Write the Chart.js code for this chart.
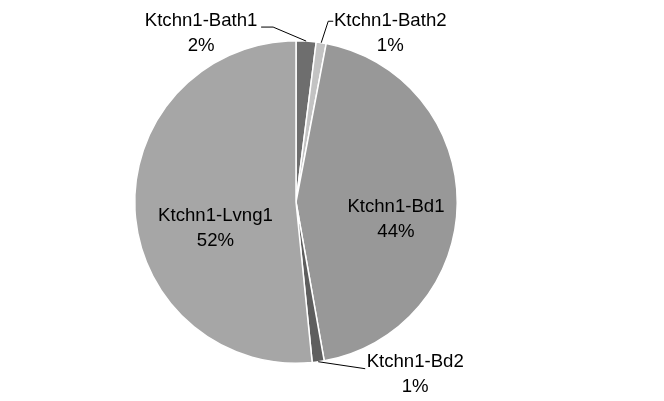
<!DOCTYPE html>
<html>
<head>
<meta charset="utf-8">
<script src="https://cdn.jsdelivr.net/npm/chart.js@4/dist/chart.umd.min.js"></script>
<style>
  html, body { margin: 0; padding: 0; background: #fff; }
  #wrap { width: 664px; height: 401px; position: relative; }
</style>
</head>
<body>
<div id="wrap"><canvas id="pieChart"></canvas></div>
<script>
const categories = ['Ktchn1-Bath1', 'Ktchn1-Bath2', 'Ktchn1-Bd1', 'Ktchn1-Bd2', 'Ktchn1-Lvng1'];
const shares = [2.0, 1.0, 44.2, 1.2, 51.6];
const sliceColors = ['#6e6e6e', '#c3c3c3', '#989898', '#5e5e5e', '#a6a6a6'];

// where each label sits: r = fraction of radius along the slice middle, dx/dy = nudge,
// leader = elbow points relative to the label centre (outside labels only)
const labelLayout = [
    { r: 1, dx: -105, dy: -7.5, leader: [[72, -6.5], [60, -6.5]] },
    { r: 1, dx: 69, dy: -9, leader: [[-62, -12.5], [-57, -12.5]] },
    { r: 0.62, dx: 0, dy: 16.5 },
    { r: 1, dx: 97, dy: 13, leader: [[-50, -6]] },
    { r: 0.5, dx: 0, dy: 22.5 }
];

const total = shares.reduce((a, b) => a + b, 0);

const pieLabels = {
    id: 'pieLabels',
    afterDatasetsDraw(chart) {
        const ctx = chart.ctx;
        const meta = chart.getDatasetMeta(0);
        ctx.save();
        ctx.font = '18.6px "Liberation Sans", Arial, sans-serif';
        ctx.fillStyle = '#000';
        ctx.textAlign = 'center';
        ctx.textBaseline = 'middle';
        meta.data.forEach((arc, i) => {
            const p = arc.getProps(['x', 'y', 'startAngle', 'endAngle', 'outerRadius'], true);
            const mid = (p.startAngle + p.endAngle) / 2;
            const cfg = labelLayout[i];
            const ax = p.x + Math.cos(mid) * p.outerRadius * cfg.r;
            const ay = p.y + Math.sin(mid) * p.outerRadius * cfg.r;
            const cx = ax + cfg.dx;
            const cy = ay + cfg.dy;
            if (cfg.leader) {
                ctx.beginPath();
                ctx.strokeStyle = '#000';
                ctx.lineWidth = 1;
                ctx.moveTo(ax, ay);
                cfg.leader.forEach(pt => ctx.lineTo(cx + pt[0], cy + pt[1]));
                ctx.stroke();
            }
            const pct = Math.round(shares[i] / total * 100) + '%';
            ctx.fillText(categories[i], cx, cy - 12.5);
            ctx.fillText(pct, cx, cy + 12.5);
        });
        ctx.restore();
    }
};

new Chart(document.getElementById('pieChart'), {
    type: 'pie',
    data: {
        labels: categories,
        datasets: [{
            data: shares,
            backgroundColor: sliceColors,
            borderColor: '#ffffff',
            borderWidth: 1.5
        }]
    },
    options: {
        responsive: true,
        maintainAspectRatio: false,
        animation: false,
        layout: { padding: { top: 40, bottom: 37, left: 134, right: 206 } },
        plugins: {
            legend: { display: false },
            tooltip: { enabled: false }
        }
    },
    plugins: [pieLabels]
});
</script>
</body>
</html>
